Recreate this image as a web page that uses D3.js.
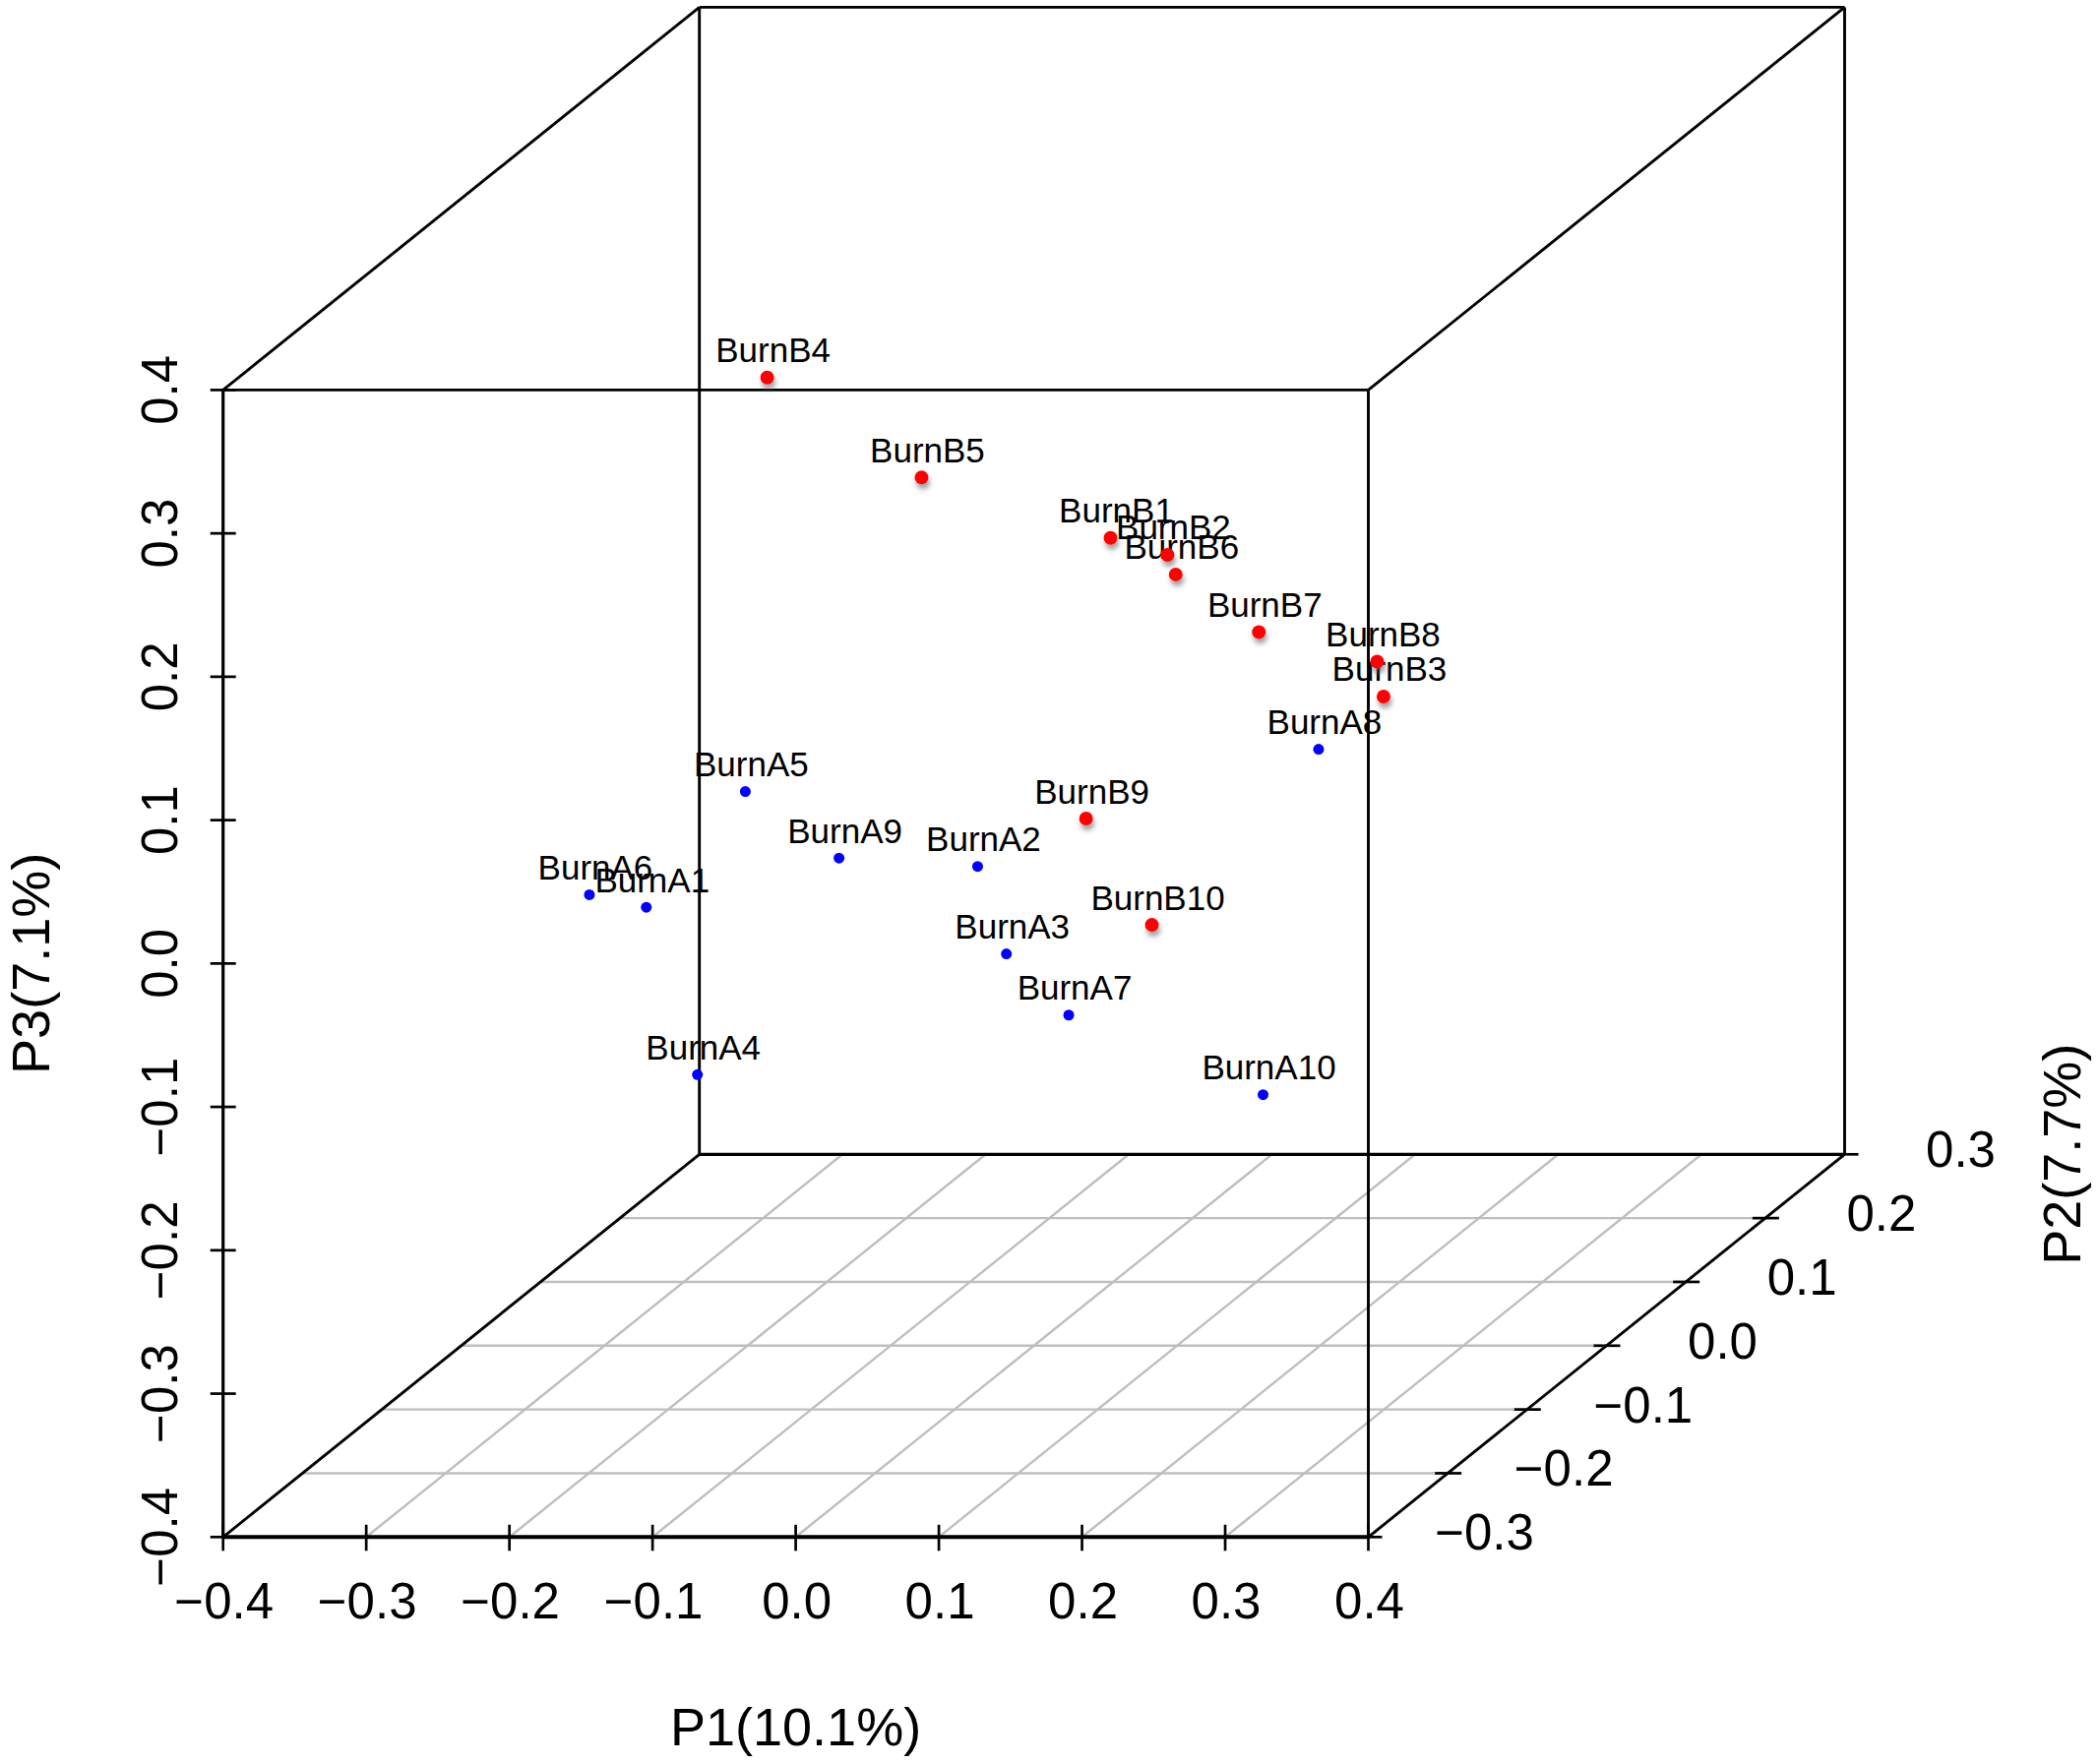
<!DOCTYPE html>
<html>
<head>
<meta charset="utf-8">
<script src="https://cdn.jsdelivr.net/npm/d3@7/dist/d3.min.js"></script>
<style>
  html, body { margin: 0; padding: 0; background: #ffffff; }
  svg { display: block; }
  text { font-family: "Liberation Sans", Arial, Helvetica, sans-serif; fill: #000; }
</style>
</head>
<body>
<svg id="chart" width="2133" height="1793"></svg>
<script>
// ---------------- data ----------------
const sampleNames = ["BurnA1","BurnA2","BurnA3","BurnA4","BurnA5","BurnA6","BurnA7","BurnA8","BurnA9","BurnA10",
                     "BurnB1","BurnB2","BurnB3","BurnB4","BurnB5","BurnB6","BurnB7","BurnB8","BurnB9","BurnB10"];
const sampleGroup = ["A","A","A","A","A","A","A","A","A","A",
                     "B","B","B","B","B","B","B","B","B","B"];
const P1 = [-0.243,-0.067, 0.064,-0.235,-0.257,-0.255,-0.020, 0.088,-0.125, 0.271,
            -0.013, 0.049, 0.272,-0.214,-0.023, 0.088, 0.074, 0.140, 0.103, 0.027];
const P2 = [-0.05, 0.05,-0.15, 0.00, 0.10,-0.10, 0.08, 0.20,-0.02,-0.20,
             0.12, 0.08,-0.05, 0.05,-0.10, 0.02, 0.15, 0.18,-0.12, 0.10];
const P3 = [-0.072,-0.088,-0.060,-0.211,-0.058,-0.041,-0.205,-0.073,-0.051,-0.136,
             0.110, 0.116, 0.075, 0.253, 0.250, 0.129, 0.031,-0.003, 0.021,-0.151];
const xTicks = [-0.4,-0.3,-0.2,-0.1,0.0,0.1,0.2,0.3,0.4];
const zTicks = [-0.4,-0.3,-0.2,-0.1,0.0,0.1,0.2,0.3,0.4];
const yTicks = [-0.3,-0.2,-0.1,0.0,0.1,0.2,0.3];
const xTitle = "P1(10.1%)";
const yTitle = "P2(7.7%)";
const zTitle = "P3(7.1%)";

// ---------------- scales (oblique projection like scatterplot3d) ----------------
const xS = d3.scaleLinear().domain([-0.4, 0.4]).range([226.7, 1390.5]);
const zS = d3.scaleLinear().domain([-0.4, 0.4]).range([1562.3, 396.4]);
const dX = d3.scaleLinear().domain([-0.3, 0.3]).range([0, 484]);
const dY = d3.scaleLinear().domain([-0.3, 0.3]).range([0, -389]);
const proj = (x, y, z) => [xS(x) + dX(y), zS(z) + dY(y)];
const fmt = d3.format(".1f");

const svg = d3.select("#chart");
svg.append("rect").attr("width", 2133).attr("height", 1793).attr("fill", "#fff");

const defs = svg.append("defs");
const f = defs.append("filter").attr("id", "shadow").attr("x", "-100%").attr("y", "-100%")
  .attr("width", "300%").attr("height", "300%");
f.append("feDropShadow").attr("dx", 1.5).attr("dy", 5).attr("stdDeviation", 2.5)
  .attr("flood-color", "#555").attr("flood-opacity", 0.55);

const line = (g, a, b, w, c) => g.append("line")
  .attr("x1", a[0]).attr("y1", a[1]).attr("x2", b[0]).attr("y2", b[1])
  .attr("stroke", c || "#000").attr("stroke-width", w);

const [xmin, xmax] = xS.domain();
const [zmin, zmax] = zS.domain();
const [ymin, ymax] = dX.domain();

// ---------------- floor grid ----------------
const grid = svg.append("g");
yTicks.filter(t => t > ymin + 1e-9 && t < ymax - 1e-9).forEach(t =>
  line(grid, proj(xmin, t, zmin), proj(xmax, t, zmin), 2.4, "#bebebe"));
xTicks.filter(t => t > xmin + 1e-9 && t < xmax - 1e-9).forEach(t =>
  line(grid, proj(t, ymin, zmin), proj(t, ymax, zmin), 2.4, "#bebebe"));

// ---------------- box ----------------
const box = svg.append("g");
const W = 2.9;
// back face
line(box, proj(xmin, ymax, zmax), proj(xmax, ymax, zmax), W);
line(box, proj(xmin, ymax, zmin), proj(xmax, ymax, zmin), 3.3);
line(box, proj(xmin, ymax, zmin), proj(xmin, ymax, zmax), W);
line(box, proj(xmax, ymax, zmin), proj(xmax, ymax, zmax), W);
// depth edges
line(box, proj(xmin, ymin, zmax), proj(xmin, ymax, zmax), W);
line(box, proj(xmax, ymin, zmax), proj(xmax, ymax, zmax), W);
line(box, proj(xmin, ymin, zmin), proj(xmin, ymax, zmin), W);
line(box, proj(xmax, ymin, zmin), proj(xmax, ymax, zmin), W);
// front face
line(box, proj(xmin, ymin, zmax), proj(xmax, ymin, zmax), W);
line(box, proj(xmin, ymin, zmin), proj(xmax, ymin, zmin), 4);
line(box, proj(xmin, ymin, zmin), proj(xmin, ymin, zmax), 3.2);
line(box, proj(xmax, ymin, zmin), proj(xmax, ymin, zmax), W);

// ---------------- axes ----------------
const ax = svg.append("g");
const tickFont = 51;
// x axis
xTicks.forEach(t => {
  const p = proj(t, ymin, zmin);
  line(ax, [p[0], p[1] - 12.5], [p[0], p[1] + 14], 2.7);
  ax.append("text").attr("x", p[0] + 1).attr("y", p[1] + 83)
    .attr("text-anchor", "middle").attr("font-size", tickFont).text(fmt(t));
});
// z axis (vertical, left)
zTicks.forEach(t => {
  const p = proj(xmin, ymin, t);
  line(ax, [p[0] - 13, p[1]], [p[0] + 13, p[1]], 2.7);
  ax.append("text").attr("transform", `translate(${p[0] - 47},${p[1]}) rotate(-90)`)
    .attr("text-anchor", "middle").attr("font-size", tickFont).text(fmt(t));
});
// y axis (depth, bottom right)
yTicks.forEach(t => {
  const p = proj(xmax, t, zmin);
  line(ax, [p[0] - 13, p[1]], [p[0] + 14, p[1]], 2.7);
  ax.append("text").attr("x", p[0] + 118).attr("y", p[1] + 13)
    .attr("text-anchor", "middle").attr("font-size", tickFont).text(fmt(t));
});
// titles
ax.append("text").attr("x", (xS(xmin) + xS(xmax)) / 2).attr("y", 1774)
  .attr("text-anchor", "middle").attr("font-size", 54).text(xTitle);
ax.append("text").attr("transform", `translate(50,${(zS(zmin) + zS(zmax)) / 2}) rotate(-90)`)
  .attr("text-anchor", "middle").attr("font-size", 54).text(zTitle);
const yb = proj(xmax, ymax, zmin);
ax.append("text").attr("transform", `translate(2114,${yb[1]}) rotate(-90)`)
  .attr("text-anchor", "middle").attr("font-size", 54).text(yTitle);

// ---------------- points ----------------
const pts = sampleNames.map((n, i) => {
  const p = proj(P1[i], P2[i], P3[i]);
  return { name: n, group: sampleGroup[i], sx: p[0], sy: p[1] };
});
const color = d3.scaleOrdinal().domain(["A", "B"]).range(["#0000ff", "#ff0000"]);
const radius = d3.scaleOrdinal().domain(["A", "B"]).range([5.5, 7]);

svg.append("g").selectAll("text").data(pts).join("text")
  .attr("x", d => d.sx + 6).attr("y", d => d.sy - 15.5)
  .attr("text-anchor", "middle").attr("font-size", 35).text(d => d.name);

svg.append("g").selectAll("circle").data(pts).join("circle")
  .attr("cx", d => d.sx).attr("cy", d => d.sy)
  .attr("r", d => radius(d.group)).attr("fill", d => color(d.group))
  .attr("filter", d => d.group === "B" ? "url(#shadow)" : null);
</script>
</body>
</html>
